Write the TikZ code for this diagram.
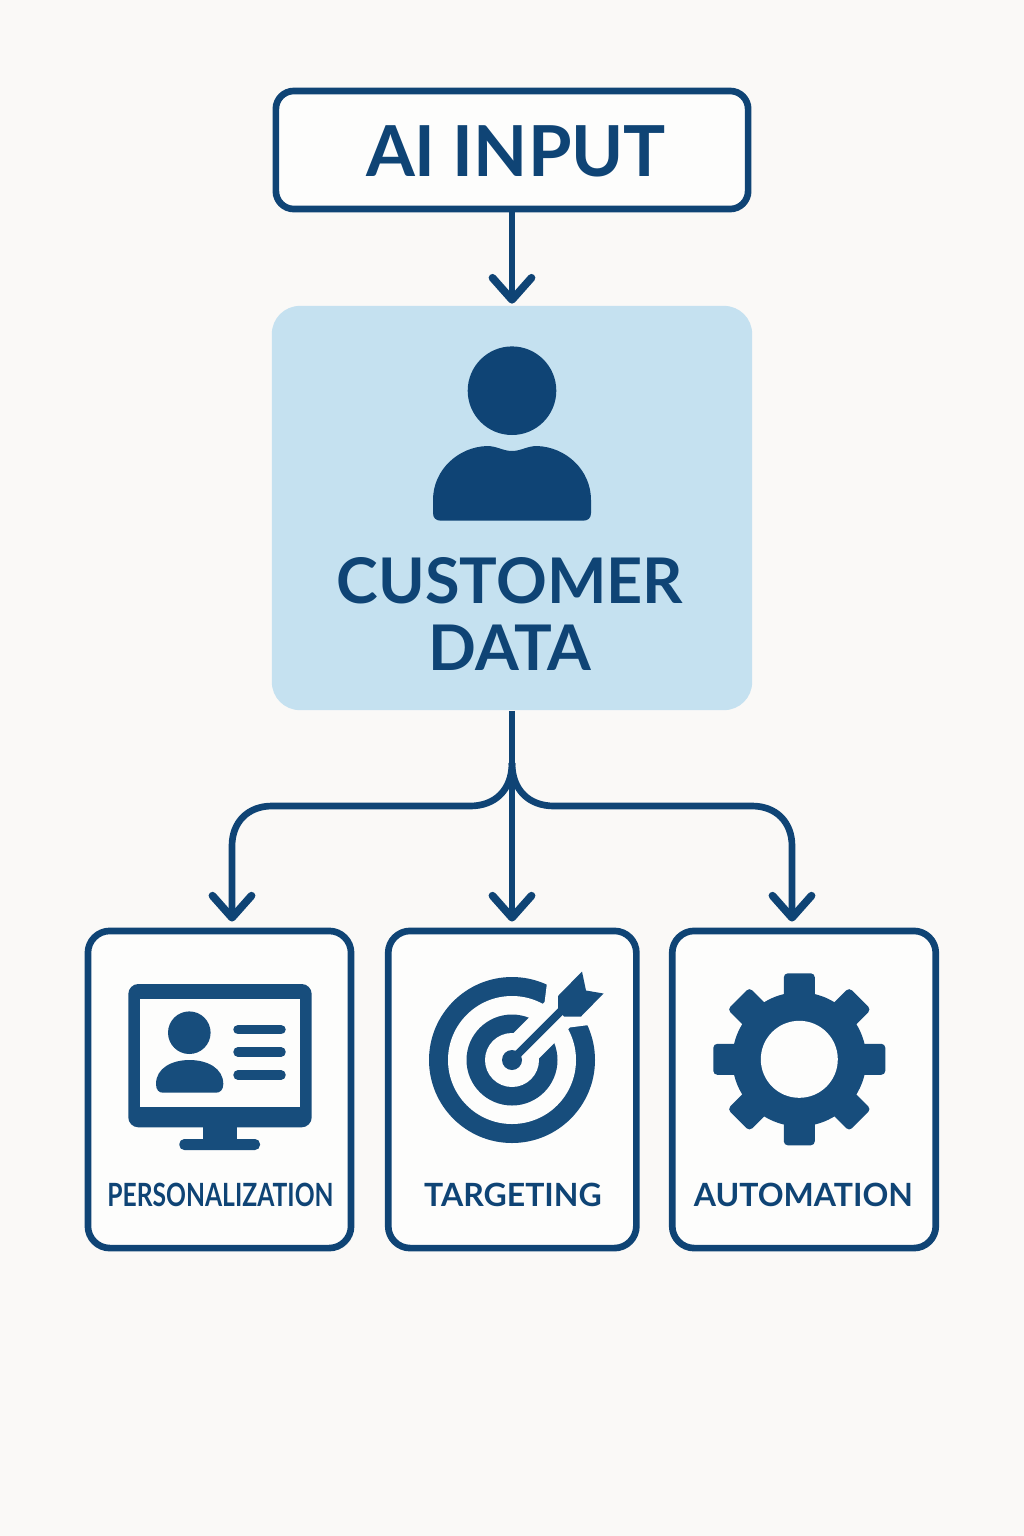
\documentclass[tikz,border=0pt]{standalone}
\usepackage{fontspec}
\setmainfont{Lato}
\usetikzlibrary{arrows.meta}
\definecolor{navy}{HTML}{0F4475}
\definecolor{iconblue}{HTML}{174D7C}
\definecolor{paleblue}{HTML}{C5E1F0}
\definecolor{paper}{HTML}{FAF9F7}
\definecolor{boxwhite}{HTML}{FDFDFC}
\tikzset{
  inputbox/.style={draw=navy, fill=boxwhite, line width=1.9pt, rounded corners=1.8mm, minimum width=4.72cm, minimum height=1.18cm},
  databox/.style={fill=paleblue, rounded corners=2.8mm, minimum width=4.8cm, minimum height=4.04cm},
  outcomebox/.style={draw=navy, fill=boxwhite, line width=1.9pt, rounded corners=2.2mm, minimum height=3.17cm},
  biglabel/.style={text=navy, font=\fontsize{20}{19}\selectfont\bfseries, align=center},
  smalllabel/.style={text=navy, font=\fontsize{9.1}{11}\selectfont\bfseries},
  flowline/.style={draw=navy, line width=1.9pt, -{Straight Barb[length=2.2mm, width=3.9mm, line width=2.2pt, round]}},
  flowstub/.style={draw=navy, line width=1.9pt}
}
\begin{document}
\begin{tikzpicture}[x=0.01cm, y=-0.01cm]
            \fill[paper] (0,0) rectangle (1024,1536);
            \useasboundingbox (0,0) rectangle (1024,1536);

            \node[inputbox] (aiinput) at (512,150) {};
            \node[biglabel] (aitext) at (516,151) {AI INPUT};
            \node[databox] (customer) at (512,508) {};
            \node[outcomebox, minimum width=2.63cm] (personal) at (219.5,1089.5) {};
            \node[outcomebox, minimum width=2.48cm] (targeting) at (512.3,1089.5) {};
            \node[outcomebox, minimum width=2.634cm] (automation) at (804,1089.5) {};

            \coordinate (split) at (512,763);
            \coordinate (leftbend) at (232,806);
            \coordinate (rightbend) at (792,806);

            \draw[flowline, shorten >=0.15mm] (aiinput) -- (customer);
            \draw[flowstub] (customer.south) -- (split);
            \draw[flowline, shorten >=0.6mm] (split) -- (split |- targeting.north);
            \draw[flowline, shorten >=0.6mm] (split) .. controls (512,790) and (495,806) .. (470,806)
                -- (272,806) .. controls (248,806) and (232,822) .. (232,846) -- (leftbend |- personal.north);
            \draw[flowline, shorten >=0.6mm] (split) .. controls (512,790) and (529,806) .. (554,806)
                -- (752,806) .. controls (776,806) and (792,822) .. (792,846) -- (rightbend |- automation.north);

            % person in the data box
            \fill[navy] (512,390.7) circle (44.3);
            \fill[navy] (433,500) .. controls (433,470) and (458,447) .. (487,446)
                .. controls (497,446) and (503,451) .. (512,451)
                .. controls (521,451) and (527,446) .. (537,446)
                .. controls (566,447) and (591,470) .. (591,500)
                -- (591,513) .. controls (591,518) and (588,520.7) .. (583,520.7)
                -- (441,520.7) .. controls (436,520.7) and (433,518) .. (433,513) -- cycle;
            \node[biglabel, font=\fontsize{17.9}{19}\selectfont\bfseries] (customertext) at (510,614) {CUSTOMER\\DATA};

            % monitor
            \fill[iconblue, rounded corners=1mm] (128.3,984) rectangle (311.7,1127.3);
            \fill[boxwhite] (140,999.3) rectangle (300,1107.3);
            \fill[iconblue] (203.3,1125) rectangle (236.7,1142);
            \fill[iconblue, rounded corners=0.5mm] (179.3,1139) rectangle (260,1150);
            \fill[iconblue] (189.3,1032.7) circle (21.3);
            \fill[iconblue] (156,1084) .. controls (156,1068) and (172,1060) .. (189.5,1060)
                .. controls (207,1060) and (223.3,1068) .. (223.3,1084)
                .. controls (223.3,1090) and (220,1092.7) .. (216,1092.7)
                -- (163,1092.7) .. controls (159,1092.7) and (156,1090) .. (156,1084) -- cycle;
            \foreach \rowy in {1029.7,1052,1075} {
                \draw[iconblue, line width=2.7pt, line cap=round] (238,\rowy) -- (281,\rowy);
            }
            \node[smalllabel, xscale=0.77, transform shape] (personaltext) at (220.5,1195) {PERSONALIZATION};

            % target
            \fill[iconblue] (512,1060) circle (83);
            \fill[boxwhite] (512,1060) circle (64);
            \fill[iconblue] (512,1060) circle (45.5);
            \fill[boxwhite] (512,1060) circle (27);
            \fill[boxwhite] (499.3,1047.3) -- (524.7,1072.7) -- (570,1027.4) -- (608.9,1022.5)
                -- (549.5,963.1) -- (544.6,1002) -- cycle;
            \fill[iconblue] (512,1060) circle (10);
            \draw[iconblue, line width=2.3pt] (512,1060) -- (570,1002);
            \fill[iconblue] (558,996) -- (582,971.5) -- (586,990.5) -- (603.5,993.5)
                -- (581,1016.5) -- (564,1016.5) -- (558,1010) -- cycle;
            \node[smalllabel] (targetingtext) at (513,1195) {TARGETING};

            % gear
            \fill[iconblue] (799.3,1059.3) circle (67);
            \foreach \toothangle in {0,45,...,315} {
                \fill[iconblue, rounded corners=0.4mm, shift={(799.3,1059.3)}, rotate=\toothangle]
                    (-15.5,-86) rectangle (15.5,-50);
            }
            \fill[boxwhite] (799.3,1059.3) circle (38.5);
            \node[smalllabel] (automationtext) at (803.5,1195) {AUTOMATION};
\end{tikzpicture}
\end{document}
